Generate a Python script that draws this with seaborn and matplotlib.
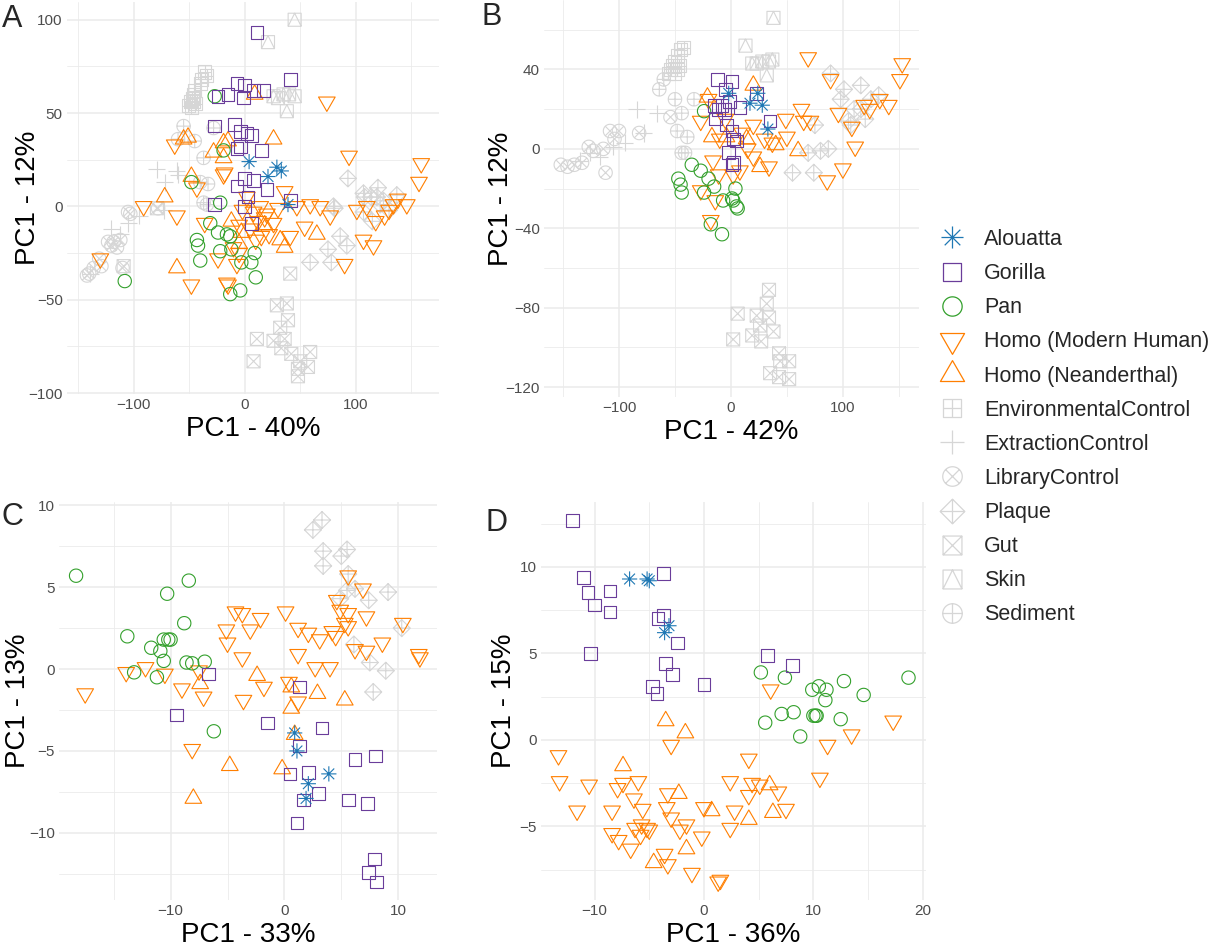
import matplotlib
matplotlib.use("Agg")
import matplotlib.pyplot as plt
import numpy as np
import seaborn as sns
from matplotlib.path import Path
from matplotlib.lines import Line2D
from matplotlib.ticker import FixedLocator

sns.set_theme(style="whitegrid")
plt.rcParams['font.family'] = ['Liberation Sans', 'DejaVu Sans']

# ---------------- data ----------------
groups = ['Alouatta', 'Gorilla', 'Pan', 'Homo (Modern Human)', 'Homo (Neanderthal)',
          'EnvironmentalControl', 'ExtractionControl', 'LibraryControl', 'Plaque',
          'Gut', 'Skin', 'Sediment']

# panel A
a_alouatta = [(4, 24), (29, 21), (33, 19), (21, 16), (39, 1)]
a_gorilla = [(11, 93), (-7, 66), (0, 65), (-15, 60), (-24, 59), (-1, 58), (8, 62), (17, 62), (41, 68),
             (-27, 43), (-9, 44), (-4, 40), (2, 39), (6, 38), (-4, 32), (-7, 31), (15, 30), (0, 15),
             (-7, 11), (8, 14), (20, 9), (41, 3), (-27, 1), (0, 0), (6, -9), (3, 5)]
a_pan = [(-27, 59), (-19, 30), (-48, 13), (-22, 2), (-31, -9), (-24, -14), (-13, -16), (-16, -15),
         (-43, -18), (-42, -21), (-22, -24), (-12, -23), (-40, -29), (-3, -30), (6, -30), (9, -25),
         (10, -38), (-13, -47), (-4, -45), (-108, -40)]
a_modern = [(-63, 33), (-19, 17), (-43, 10), (-91, 0), (-61, -5), (-36, -9), (-130, -28), (-48, -42),
            (-15, -42), (-24, -28), (-7, -31), (-16, -41), (74, 56), (94, 27), (159, 23), (157, 13),
            (-18, 18), (36, 8), (26, -9), (101, -2), (116, -21), (107, -18), (90, -31), (68, 0),
            (77, -5), (54, -11), (41, -16), (20, -4), (126, -5), (146, 1), (134, 1), (110, 0),
            (118, -8), (14, 0), (2, 5), (59, 1), (47, 0), (-2, -2), (8, -3), (30, -1), (138, 4),
            (130, -2), (10, -18), (15, -16), (5, -12), (-5, -10), (12, -8), (22, -15), (-10, -22),
            (-5, -25), (18, -6)]
a_neander = [(-55, 36), (-51, 37), (-15, 35), (-28, 29), (-19, 26), (-48, 16), (-72, 5), (9, 60),
             (26, 36), (-19, 34), (-12, -8), (-61, -33), (32, -18), (65, -15), (36, -22), (-3, -14),
             (-5, -20), (18, -10)]
a_env = [(-36, 72), (-34, 70), (-39, 68), (-40, 66), (-45, 62), (-46, 60), (-47, 58), (-49, 56),
         (-51, 54), (-48, 53), (-44, 55), (-46, 56)]
a_extraction = [(-79, 20), (-61, 19), (-60, 17), (-72, 13), (-105, -9), (-112, -15), (-73, -2),
                (-139, -36), (-120, -12), (-95, -5)]
a_library = [(-142, -37), (-136, -33), (-129, -32), (-123, -19), (-118, -19), (-112, -18), (-105, -3),
             (-103, -4), (-140, -36), (-131, -28), (-115, -22), (-120, -21), (-78, -1), (-110, -33)]
a_plaque = [(81, -1), (108, 5), (107, -3), (119, 5), (122, 1), (137, 6), (86, -16), (92, -21), (75, -23),
            (59, -30), (78, -30), (93, 15), (120, 10), (107, 7), (114, 5), (80, 0), (125, 3), (130, -2),
            (115, -8)]
a_gut = [(41, -36), (29, -53), (38, -52), (39, -61), (32, -65), (11, -71), (26, -72), (36, -71), (33, -76),
         (59, -78), (42, -79), (50, -83), (57, -86), (48, -87), (48, -91), (8, -83), (-109, -32), (-79, -1)]
a_skin = [(45, 100), (21, 88), (26, 59), (30, 58), (35, 60), (40, 60), (45, 59), (38, 51)]
a_sediment = [(-55, 43), (-60, 36), (-45, 35), (-37, 26), (-28, 42), (-40, 13), (-33, 12), (-37, 2),
              (-34, 1)]

# panel B
b_alouatta = [(-2, 28), (24, 28), (17, 23), (28, 22), (33, 10)]
b_gorilla = [(-12, 35), (1, 34), (-5, 30), (-15, 22), (-11, 20), (-6, 20), (-14, 15), (-4, 12), (1, 9),
             (2, 5), (-2, -2), (2, -7), (-1, 24), (8, 21), (23, 28), (35, 14), (5, 4), (1, -8), (-8, 22)]
b_pan = [(-24, 19), (-35, -8), (-27, -11), (-47, -15), (-45, -18), (-44, -22), (-20, -15), (-24, -22),
         (-7, -26), (2, -26), (5, -29), (-8, -43), (-18, -38), (-15, -19), (4, -20), (1, -25), (6, -30)]
b_modern = [(-27, 14), (-16, -6), (-11, -13), (-27, -21), (-14, -26), (-18, -36), (69, 46), (153, 43),
            (151, 35), (89, 35), (63, 20), (96, 18), (108, 11), (111, 1), (100, -10), (86, -16),
            (141, 22), (133, 25), (124, 20), (119, 22), (50, 6), (37, 3), (20, -4), (34, -9), (8, -11),
            (2, -13), (49, 15), (65, 14), (71, 14), (20, 12), (-20, 25), (-5, 15), (10, 8), (15, 0),
            (-10, 5), (30, 5)]
b_neander = [(-21, 26), (-17, 6), (-4, 6), (20, 32), (60, -1), (26, -9), (14, 5), (40, 2)]
b_env = [(-42, 51), (-45, 50), (-48, 47), (-50, 44), (-52, 42), (-54, 40), (-56, 38), (-50, 38),
         (-48, 40), (-46, 42)]
b_extraction = [(-84, 20), (-66, 18), (-78, 8), (-105, 1), (-117, -4), (-135, -6), (-126, -2), (-95, 3)]
b_library = [(-82, 8), (-54, 16), (-108, 9), (-100, 9), (-127, 1), (-123, -1), (-114, 0), (-146, -9),
             (-140, -8), (-133, -7), (-112, -12), (-152, -8), (-104, 5)]
b_plaque = [(89, 38), (101, 30), (116, 32), (132, 27), (98, 25), (110, 20), (116, 20), (105, 14),
            (107, 12), (75, 12), (69, -2), (80, -1), (87, 0), (55, -12), (74, -12), (125, 25), (120, 15)]
b_gut = [(34, -71), (32, -78), (6, -83), (23, -84), (34, -85), (26, -89), (38, -92), (19, -94), (2, -96),
         (27, -97), (43, -103), (44, -107), (52, -107), (35, -113), (43, -115), (52, -116)]
b_skin = [(38, 66), (13, 52), (19, 43), (34, 44), (32, 37), (23, 43), (28, 44), (37, 45)]
b_sediment = [(-60, 35), (-64, 30), (-50, 25), (-33, 25), (-44, 18), (-48, 9), (-39, 6), (-44, -2),
              (-41, -2)]

# panel C
c_alouatta = [(0.9, -3.9), (1.1, -5.0), (3.9, -6.4), (2.1, -7.0), (1.9, -7.9)]
c_gorilla = [(-6.7, -0.3), (-9.5, -2.8), (1.3, -1.1), (-1.5, -3.3), (3.3, -3.6), (1.3, -4.7), (6.2, -5.5),
             (8.0, -5.3), (0.5, -6.4), (2.1, -6.3), (3.0, -7.6), (1.7, -8.0), (5.6, -8.0), (7.3, -8.2),
             (1.1, -9.4), (7.9, -11.6), (7.4, -12.4), (8.1, -13.0)]
c_pan = [(-18.3, 5.7), (-8.4, 5.4), (-10.3, 4.6), (-8.8, 2.8), (-13.8, 2.0), (-10.6, 1.8), (-10.2, 1.8),
         (-10.0, 1.8), (-11.7, 1.3), (-10.9, 1.1), (-10.6, 0.5), (-8.6, 0.4), (-8.1, 0.35), (-7.0, 0.45),
         (-13.2, -0.2), (-11.2, -0.5), (-6.2, -3.8)]
c_modern = [(-17.5, -1.5), (-13.9, -0.2), (-12.2, 0.1), (-10.5, -0.3), (-9.0, -1.2), (-7.1, -1.7),
            (-4.3, 3.5), (-3.7, 3.4), (-5.1, 2.4), (-5.0, 1.6), (-3.7, 0.7), (-3.6, -1.9), (-8.1, -4.9),
            (-2.1, 3.1), (-3.0, 2.4), (0.1, 3.5), (1.2, 2.5), (2.1, 2.2), (3.1, 1.8), (4.2, 2.3),
            (4.5, 2.0), (1.2, 0.9), (2.7, 0.1), (4.0, 0.1), (-1.8, -1.1), (0.4, -0.8), (1.2, -2.0),
            (5.6, 5.7), (6.9, 4.9), (4.6, 4.2), (4.9, 3.6), (5.6, 3.4), (5.3, 2.8), (5.6, 2.6), (7.2, 3.2),
            (10.4, 2.8), (8.6, 1.6), (6.2, 1.2), (7.2, 1.1), (11.8, 0.9), (11.9, 0.7), (-7.5, -0.1)]
c_neander = [(-7.4, -0.9), (-4.8, -5.9), (-8.0, -7.9), (-2.4, -0.4), (0.6, -1.1), (0.6, -2.4), (2.9, -1.5),
             (5.3, -1.9), (0.9, -4.0), (-0.2, -6.1)]
c_plaque = [(3.3, 9.1), (2.5, 8.5), (3.4, 7.2), (5.5, 7.3), (5.0, 6.9), (3.4, 6.3), (5.6, 5.8), (5.5, 4.8),
            (6.2, 4.9), (7.4, 4.2), (9.1, 4.7), (10.3, 2.5), (6.1, 1.5), (7.5, 0.4), (8.9, -0.1),
            (7.8, -1.4), (4.9, 4.3)]

# panel D
d_alouatta = [(-6.8, 9.3), (-5.2, 9.3), (-5.0, 9.2), (-3.2, 6.6), (-3.6, 6.2)]
d_gorilla = [(-12.0, 12.7), (-11.0, 9.4), (-10.6, 8.5), (-10.0, 7.8), (-8.6, 8.6), (-8.6, 7.4), (-3.7, 9.6),
             (-3.7, 7.2), (-4.2, 7.0), (-2.4, 5.6), (-10.4, 5.0), (-3.5, 4.4), (-2.9, 3.8), (-4.7, 3.1),
             (-4.3, 2.7), (0.0, 3.2), (5.8, 4.9), (8.1, 4.3)]
d_pan = [(5.2, 3.9), (7.4, 3.6), (9.9, 2.9), (10.5, 3.1), (11.2, 2.9), (12.8, 3.4), (14.6, 2.6), (18.7, 3.6),
         (11.1, 2.3), (5.6, 1.0), (7.1, 1.5), (8.2, 1.6), (10.0, 1.4), (10.2, 1.4), (10.3, 1.4), (12.5, 1.2),
         (8.8, 0.2)]
d_modern = [(6.1, 2.9), (17.3, 1.1), (13.5, 0.3), (11.3, -0.3), (10.6, -2.2), (4.1, -1.1), (2.4, -2.4),
            (4.4, -2.5), (5.1, -2.6), (6.8, -3.0), (4.1, -3.2), (2.8, -4.1), (7.5, -4.0), (2.4, -5.1),
            (1.5, -8.1), (-13.3, -0.9), (-13.2, -2.4), (-10.5, -2.6), (-7.9, -2.8), (-7.4, -2.5),
            (-6.0, -2.4), (-11.6, -4.1), (-8.4, -4.1), (-6.4, -3.4), (-5.6, -4.0), (-8.4, -5.4),
            (-7.8, -5.8), (-6.7, -6.3), (-6.3, -5.1), (-5.7, -4.9), (-5.2, -5.1), (-5.0, -5.2),
            (-5.8, -5.5), (-3.3, -3.1), (-3.4, -3.9), (-3.0, -4.5), (-2.2, -5.2), (-1.6, -4.9),
            (0.0, -3.9), (-0.2, -5.6), (-3.6, -6.6), (-3.3, -7.2), (-1.1, -7.7), (1.3, -8.2), (-3.0, -0.3)]
d_neander = [(-3.5, 1.1), (-1.7, 0.4), (-7.4, -1.5), (-2.3, -3.1), (0.7, -4.1), (-1.6, -6.3), (-4.6, -7.1),
             (6.0, -2.6), (6.3, -4.2), (4.1, -4.6)]

a_xlabel, a_ylabel = 'PC1 - 40%', 'PC1 - 12%'
b_xlabel, b_ylabel = 'PC1 - 42%', 'PC1 - 12%'
c_xlabel, c_ylabel = 'PC1 - 33%', 'PC1 - 13%'
d_xlabel, d_ylabel = 'PC1 - 36%', 'PC1 - 15%'

a_xticks, a_yticks = [-100, 0, 100], [-100, -50, 0, 50, 100]
b_xticks, b_yticks = [-100, 0, 100], [-120, -80, -40, 0, 40]
c_xticks, c_yticks = [-10, 0, 10], [-10, -5, 0, 5, 10]
d_xticks, d_yticks = [-10, 0, 10, 20], [-5, 0, 5, 10]

# ---------------- marker shapes (ggplot-like open symbols) ----------------
def make_path(pieces):
    verts, codes = [], []
    for pts, closed in pieces:
        verts.append(pts[0]); codes.append(Path.MOVETO)
        for p in pts[1:]:
            verts.append(p); codes.append(Path.LINETO)
        if closed:
            verts.append(pts[0]); codes.append(Path.CLOSEPOLY)
    return Path(verts, codes)

t = np.linspace(0, 2 * np.pi, 49)[:-1]
circ = list(zip(np.cos(t), np.sin(t)))
sq = [(-1, -1), (1, -1), (1, 1), (-1, 1)]
r = 0.7071
hline, vline = [(-1, 0), (1, 0)], [(0, -1), (0, 1)]
d1, d2 = [(-r, -r), (r, r)], [(-r, r), (r, -r)]
sqd1, sqd2 = [(-1, -1), (1, 1)], [(-1, 1), (1, -1)]

M_STAR = make_path([(hline, False), (vline, False), (d1, False), (d2, False)])
M_SQUARE = make_path([(sq, True)])
M_CIRCLE = make_path([(circ, True)])
M_DOWN = make_path([([(-1, 0.58), (1, 0.58), (0, -1.15)], True)])
M_UP = make_path([([(-1, -0.58), (1, -0.58), (0, 1.15)], True)])
M_SQPLUS = make_path([(sq, True), (hline, False), (vline, False)])
M_PLUS = make_path([(hline, False), (vline, False)])
M_CIRCX = make_path([(circ, True), (d1, False), (d2, False)])
M_DIAMOND = make_path([([(0, -1), (1, 0), (0, 1), (-1, 0)], True), (hline, False), (vline, False)])
M_SQX = make_path([(sq, True), (sqd1, False), (sqd2, False)])
M_SQTRI = make_path([(sq, True), ([(-1, -1), (0, 1), (1, -1)], False)])
M_CIRCPLUS = make_path([(circ, True), (hline, False), (vline, False)])

BLUE, PURPLE, GREEN, ORANGE, GREY = '#1F78B4', '#6A3D9A', '#33A02C', '#FF7F00', '#D6D6D6'

style = {
    'Alouatta': (M_STAR, 120, BLUE),
    'Gorilla': (M_SQUARE, 84, PURPLE),
    'Pan': (M_CIRCLE, 92, GREEN),
    'Homo (Modern Human)': (M_DOWN, 190, ORANGE),
    'Homo (Neanderthal)': (M_UP, 190, ORANGE),
    'EnvironmentalControl': (M_SQPLUS, 88, GREY),
    'ExtractionControl': (M_PLUS, 150, GREY),
    'LibraryControl': (M_CIRCX, 94, GREY),
    'Plaque': (M_DIAMOND, 150, GREY),
    'Gut': (M_SQX, 88, GREY),
    'Skin': (M_SQTRI, 88, GREY),
    'Sediment': (M_CIRCPLUS, 94, GREY),
}

W, H = 1212, 949


def rect(left, top, right, bottom):
    return [left / W, 1 - bottom / H, (right - left) / W, (bottom - top) / H]


def draw_panel(ax, data, xlim, ylim, xticks, yticks, xlabel, ylabel, ylab_px):
    order = ['EnvironmentalControl', 'ExtractionControl', 'LibraryControl', 'Plaque', 'Gut', 'Skin',
             'Sediment', 'Homo (Modern Human)', 'Homo (Neanderthal)', 'Pan', 'Gorilla', 'Alouatta']
    for name in order:
        pts = data.get(name)
        if not pts:
            continue
        x, y = zip(*pts)
        m, s, c = style[name]
        sns.scatterplot(x=list(x), y=list(y), ax=ax, marker=m, s=s, color=c, facecolor='none',
                        edgecolor=c, linewidth=0.8, legend=False, zorder=3)
    ax.set_xlim(xlim)
    ax.set_ylim(ylim)
    ax.set_facecolor('white')
    for sp in ax.spines.values():
        sp.set_visible(False)
    ax.xaxis.set_major_locator(FixedLocator(xticks))
    ax.yaxis.set_major_locator(FixedLocator(yticks))
    xs, ys = np.diff(xticks)[0], np.diff(yticks)[0]
    ax.xaxis.set_minor_locator(FixedLocator(np.arange(xticks[0] - 1.5 * xs, xticks[-1] + 2 * xs, xs)))
    ax.yaxis.set_minor_locator(FixedLocator(np.arange(yticks[0] - 1.5 * ys, yticks[-1] + 2 * ys, ys)))
    ax.grid(which='major', color='#EBEBEB', linewidth=1.1)
    ax.grid(which='minor', color='#EBEBEB', linewidth=0.6)
    ax.set_axisbelow(True)
    ax.tick_params(which='both', length=0, labelsize=11, labelcolor='#4D4D4D', pad=3)
    ax.set_xlabel(xlabel, fontsize=20, color='black', labelpad=3)
    ax.set_ylabel(ylabel, fontsize=20, color='black')
    # y label anchor is its right edge, given in figure pixels
    pos = ax.get_position()
    ax.yaxis.set_label_coords((ylab_px / W - pos.x0) / pos.width, 0.5)


fig = plt.figure(figsize=(W / 100, H / 100), dpi=100)
fig.patch.set_facecolor('white')

axA = fig.add_axes(rect(67, 2, 439, 394))
draw_panel(axA, {'Alouatta': a_alouatta, 'Gorilla': a_gorilla, 'Pan': a_pan,
                 'Homo (Modern Human)': a_modern, 'Homo (Neanderthal)': a_neander,
                 'EnvironmentalControl': a_env, 'ExtractionControl': a_extraction,
                 'LibraryControl': a_library, 'Plaque': a_plaque, 'Gut': a_gut, 'Skin': a_skin,
                 'Sediment': a_sediment},
           (-160, 175), (-100.5, 109.5), a_xticks, a_yticks, a_xlabel, a_ylabel, 41)

axB = fig.add_axes(rect(544, 0, 919, 397))
draw_panel(axB, {'Alouatta': b_alouatta, 'Gorilla': b_gorilla, 'Pan': b_pan,
                 'Homo (Modern Human)': b_modern, 'Homo (Neanderthal)': b_neander,
                 'EnvironmentalControl': b_env, 'ExtractionControl': b_extraction,
                 'LibraryControl': b_library, 'Plaque': b_plaque, 'Gut': b_gut, 'Skin': b_skin,
                 'Sediment': b_sediment},
           (-167, 168), (-125, 75), b_xticks, b_yticks, b_xlabel, b_ylabel, 514)

axC = fig.add_axes(rect(59, 502, 437, 900))
draw_panel(axC, {'Alouatta': c_alouatta, 'Gorilla': c_gorilla, 'Pan': c_pan,
                 'Homo (Modern Human)': c_modern, 'Homo (Neanderthal)': c_neander,
                 'Plaque': c_plaque},
           (-19.8, 13.4), (-14.1, 10.2), c_xticks, c_yticks, c_xlabel, c_ylabel, 31)

axD = fig.add_axes(rect(541, 502, 926, 900))
draw_panel(axD, {'Alouatta': d_alouatta, 'Gorilla': d_gorilla, 'Pan': d_pan,
                 'Homo (Modern Human)': d_modern, 'Homo (Neanderthal)': d_neander},
           (-14.9, 20.3), (-9.25, 13.75), d_xticks, d_yticks, d_xlabel, d_ylabel, 517)

# panel tags
for tag, (px, py) in zip('ABCD', [(12, 19), (492, 17), (12, 517), (497, 523)]):
    fig.text(px / W, 1 - py / H, tag, fontsize=22, ha='center', va='center')

# shared legend
handles = []
for name in groups:
    m, s, c = style[name]
    handles.append(Line2D([], [], linestyle='none', marker=m, markersize=np.sqrt(s) * 1.45,
                          markerfacecolor='none', markeredgecolor=c, markeredgewidth=0.9))
fig.legend(handles, groups, loc='upper left', bbox_to_anchor=(935 / W, 1 - 229 / H),
           frameon=False, fontsize=15.5, labelspacing=0.61, handlelength=1.6, handletextpad=0.67,
           borderpad=0, borderaxespad=0)

fig.savefig('out.png', dpi=100, facecolor='white')
